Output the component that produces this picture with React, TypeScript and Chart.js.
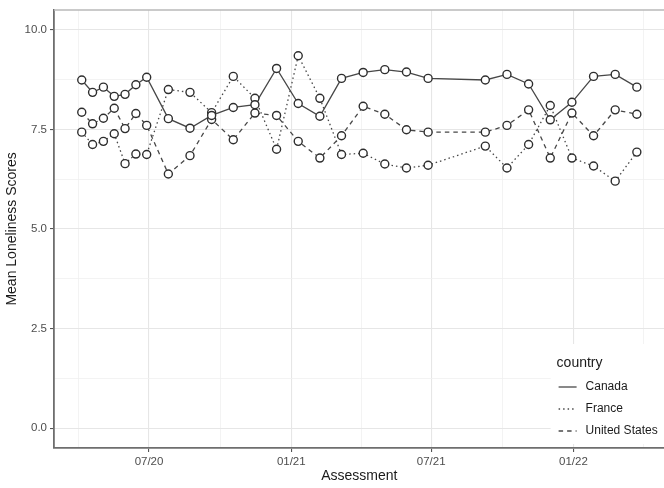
import React, { useEffect, useRef } from "react";
import { Chart, registerables } from "chart.js";

Chart.register(...registerables);

// ---------- data ----------
const assessmentDates = [
  "2020-04-05", "2020-04-19", "2020-05-03", "2020-05-17", "2020-05-31", "2020-06-14", "2020-06-28",
  "2020-07-26", "2020-08-23", "2020-09-20", "2020-10-18", "2020-11-15", "2020-12-13", "2021-01-10",
  "2021-02-07", "2021-03-07", "2021-04-04", "2021-05-02", "2021-05-30", "2021-06-27", "2021-09-09",
  "2021-10-07", "2021-11-04", "2021-12-02", "2021-12-30", "2022-01-27", "2022-02-24", "2022-03-24",
];
const canada = [
  8.74, 8.43, 8.56, 8.33, 8.38, 8.62, 8.81, 7.77, 7.53, 7.85, 8.05, 8.12, 9.03, 8.15,
  7.83, 8.78, 8.93, 9.0, 8.94, 8.78, 8.74, 8.88, 8.64, 7.74, 8.18, 8.83, 8.88, 8.56,
];
const france = [
  7.43, 7.12, 7.2, 7.39, 6.64, 6.88, 6.87, 8.5, 8.43, 7.92, 8.83, 8.28, 7.0, 9.35,
  8.28, 6.87, 6.9, 6.63, 6.53, 6.6, 7.08, 6.53, 7.12, 8.1, 6.78, 6.58, 6.2, 6.93,
];
const unitedStates = [
  7.93, 7.64, 7.78, 8.03, 7.52, 7.9, 7.6, 6.38, 6.84, 7.75, 7.24, 7.91, 7.85, 7.2,
  6.78, 7.34, 8.08, 7.88, 7.49, 7.43, 7.43, 7.6, 7.99, 6.78, 7.91, 7.34, 7.99, 7.88,
];
const countries = ["Canada", "France", "United States"];
const lineDashes = [[], [1.5, 3], [4.5, 4]];

const yLimits = [0, 10];
const yTickValues = [0, 2.5, 5, 7.5, 10];
const yTickLabels = ["0.0", "2.5", "5.0", "7.5", "10.0"];
const xTickDates = ["2020-01-01", "2020-07-01", "2021-01-01", "2021-07-01", "2022-01-01", "2022-07-01"];
const xTickLabels = ["01/20", "07/20", "01/21", "07/21", "01/22", "07/22"];

// ---------- helpers ----------
const toDay = (s: string) => Date.parse(s) / 864e5;
const xDays = assessmentDates.map(toDay);
const xSpan = xDays[xDays.length - 1] - xDays[0];
const xMin = xDays[0] - 0.05 * xSpan;
const xMax = xDays[xDays.length - 1] + 0.05 * xSpan;
const ySpan = yLimits[1] - yLimits[0];
const yMin = yLimits[0] - 0.05 * ySpan;
const yMax = yLimits[1] + 0.05 * ySpan;

const xMajor = xTickDates.map(toDay);
const xMinor = xMajor.slice(1).map((v, i) => (v + xMajor[i]) / 2);
const yMinor = yTickValues.slice(1).map((v, i) => (v + yTickValues[i]) / 2);

const FONT = "'Liberation Sans', Arial, Helvetica, sans-serif";
const seriesValues = [canada, france, unitedStates];

const isMajorX = (v: number) => xMajor.some((m) => Math.abs(m - v) < 1e-6);
const isMajorY = (v: number) => yTickValues.some((m) => Math.abs(m - v) < 1e-6);

const framePlugin = {
  id: "frameAndLegend",
  afterDatasetsDraw(chart: any) {
    const { ctx, chartArea: a } = chart;
    ctx.save();
    // top panel border
    ctx.strokeStyle = "#b8b8b8";
    ctx.lineWidth = 1.5;
    ctx.beginPath();
    ctx.moveTo(a.left, a.top);
    ctx.lineTo(a.right, a.top);
    ctx.stroke();

    // legend inside bottom-right
    const bx = a.right - 114;
    const by = a.bottom - 104;
    ctx.fillStyle = "#ffffff";
    ctx.fillRect(bx, by, 114, 100);
    ctx.fillStyle = "#1a1a1a";
    ctx.textBaseline = "middle";
    ctx.textAlign = "left";
    ctx.font = `14px ${FONT}`;
    ctx.fillText("country", bx + 6, by + 19);
    ctx.font = `12px ${FONT}`;
    countries.forEach((name, i) => {
      const y = by + 43 + i * 22;
      ctx.strokeStyle = "#4a4a4a";
      ctx.lineWidth = 1.3;
      ctx.setLineDash(lineDashes[i]);
      ctx.beginPath();
      ctx.moveTo(bx + 8, y);
      ctx.lineTo(bx + 26, y);
      ctx.stroke();
      ctx.setLineDash([]);
      ctx.fillStyle = "#1a1a1a";
      ctx.fillText(name, bx + 35, y);
    });
    ctx.restore();
  },
};

export default function App() {
  const ref = useRef<HTMLCanvasElement>(null);

  useEffect(() => {
    if (!ref.current) return;
    const lineSets = countries.map((name, i) => ({
      label: name,
      data: xDays.map((x, j) => ({ x, y: seriesValues[i][j] })),
      borderColor: "#474747",
      borderWidth: 1.3,
      borderDash: lineDashes[i],
      pointRadius: 0,
      fill: false,
      tension: 0,
      order: 2,
    }));
    const pointSets = countries.map((name, i) => ({
      label: name + " points",
      data: xDays.map((x, j) => ({ x, y: seriesValues[i][j] })),
      showLine: false,
      pointRadius: 4,
      pointBorderWidth: 1.4,
      pointBackgroundColor: "#ffffff",
      pointBorderColor: "#2e2e2e",
      order: 1,
    }));

    const chart = new Chart(ref.current, {
      type: "line",
      data: { datasets: [...lineSets, ...pointSets] as any },
      options: {
        animation: false,
        responsive: false,
        devicePixelRatio: 1,
        layout: { padding: { top: 7, right: 2, bottom: 0, left: 0 } },
        plugins: { legend: { display: false }, tooltip: { enabled: false }, title: { display: false } },
        scales: {
          x: {
            type: "linear",
            min: xMin,
            max: xMax,
            afterFit: (s: any) => {
              s.height = 40;
            },
            afterBuildTicks: (s: any) => {
              s.ticks = [...xMajor, ...xMinor]
                .filter((v) => v >= xMin && v <= xMax)
                .sort((p, q) => p - q)
                .map((value) => ({ value }));
            },
            ticks: {
              autoSkip: false,
              maxRotation: 0,
              padding: 3,
              color: "#4d4d4d",
              font: { family: FONT, size: 11.5 },
              callback: (v: any) => {
                const i = xMajor.findIndex((m) => Math.abs(m - v) < 1e-6);
                return i >= 0 ? xTickLabels[i] : "";
              },
            },
            grid: {
              color: (c: any) => (c.tick && isMajorX(c.tick.value) ? "#e6e6e6" : "#f0f0f0"),
              lineWidth: (c: any) => (c.tick && isMajorX(c.tick.value) ? 1.1 : 0.8),
              tickColor: (c: any) => (c.tick && isMajorX(c.tick.value) ? "#555555" : "rgba(0,0,0,0)"),
              tickLength: 4,
              drawTicks: true,
            },
            border: { display: true, color: "#6e6e6e", width: 1.8 },
            title: {
              display: true,
              text: "Assessment",
              color: "#1a1a1a",
              font: { family: FONT, size: 14 },
              padding: { top: 0, bottom: 3 },
            },
          },
          y: {
            type: "linear",
            min: yMin,
            max: yMax,
            afterFit: (s: any) => {
              s.width = 54;
            },
            afterBuildTicks: (s: any) => {
              s.ticks = [...yTickValues, ...yMinor].sort((p, q) => p - q).map((value) => ({ value }));
            },
            ticks: {
              autoSkip: false,
              padding: 3,
              color: "#4d4d4d",
              font: { family: FONT, size: 11.5 },
              callback: (v: any) => {
                const i = yTickValues.findIndex((m) => Math.abs(m - v) < 1e-6);
                return i >= 0 ? yTickLabels[i] : "";
              },
            },
            grid: {
              color: (c: any) => (c.tick && isMajorY(c.tick.value) ? "#e6e6e6" : "#f0f0f0"),
              lineWidth: (c: any) => (c.tick && isMajorY(c.tick.value) ? 1.1 : 0.8),
              tickColor: (c: any) => (c.tick && isMajorY(c.tick.value) ? "#555555" : "rgba(0,0,0,0)"),
              tickLength: 4,
              drawTicks: true,
            },
            border: { display: true, color: "#6e6e6e", width: 1.8 },
            title: {
              display: true,
              text: "Mean Loneliness Scores",
              color: "#1a1a1a",
              font: { family: FONT, size: 14 },
              padding: { top: 4, bottom: 0 },
            },
          },
        },
      },
      plugins: [framePlugin],
    });
    return () => chart.destroy();
  }, []);

  return (
    <div
      style={{
        position: "fixed",
        left: 0,
        top: 0,
        width: 664,
        height: 488,
        overflow: "hidden",
        background: "#ffffff",
      }}
    >
      <canvas ref={ref} width={670} height={488} style={{ display: "block" }} />
    </div>
  );
}
